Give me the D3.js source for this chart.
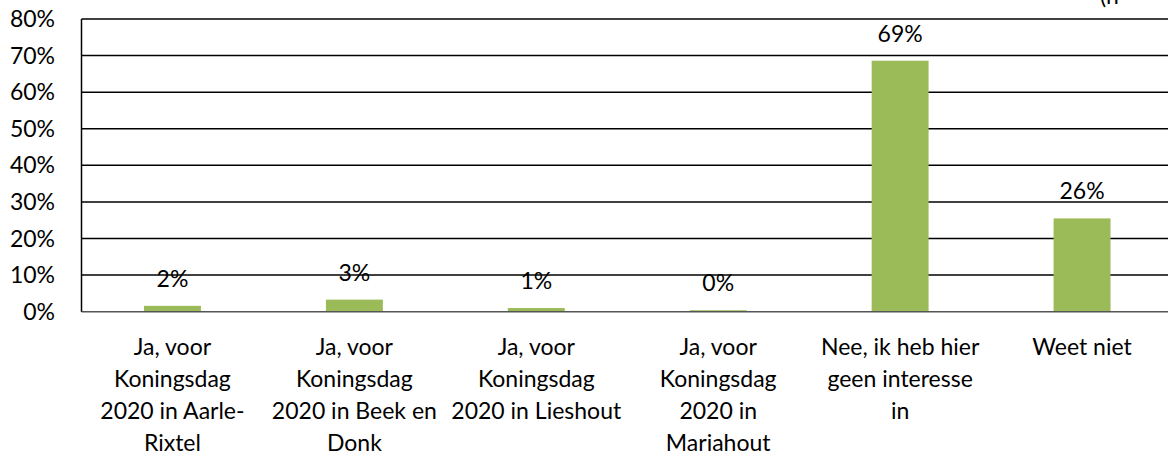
<!DOCTYPE html>
<html>
<head>
<meta charset="utf-8">
<script src="https://cdn.jsdelivr.net/npm/d3@7"></script>
<style>
  body { margin: 0; background: #fff; overflow: hidden; }
  text { font-family: Lato, "Open Sans", sans-serif; fill: #000; }
</style>
</head>
<body>
<div id="chart"></div>
<script>
'use strict';

// answers (categories) and their share
var categories = [
  'Ja, voor Koningsdag 2020 in Aarle-Rixtel',
  'Ja, voor Koningsdag 2020 in Beek en Donk',
  'Ja, voor Koningsdag 2020 in Lieshout',
  'Ja, voor Koningsdag 2020 in Mariahout',
  'Nee, ik heb hier geen interesse in',
  'Weet niet'
];
var values = [0.016, 0.033, 0.010, 0.004, 0.686, 0.255];
var valueLabels = ['2%', '3%', '1%', '0%', '69%', '26%'];
// how the axis labels are wrapped in the picture
var tickLines = [
  ['Ja, voor', 'Koningsdag', '2020 in Aarle-', 'Rixtel'],
  ['Ja, voor', 'Koningsdag', '2020 in Beek en', 'Donk'],
  ['Ja, voor', 'Koningsdag', '2020 in Lieshout'],
  ['Ja, voor', 'Koningsdag', '2020 in', 'Mariahout'],
  ['Nee, ik heb hier', 'geen interesse', 'in'],
  ['Weet niet']
];
var yTicks = [0, 0.1, 0.2, 0.3, 0.4, 0.5, 0.6, 0.7, 0.8];

var cw = 1168, ch = 457;
var x0 = 81.5, x1 = 1173, yTop = 19, yBottom = 311.7;
var barFrac = 0.313;

var svg = d3.select('#chart').append('svg')
  .attr('width', cw)
  .attr('height', ch);

var xScale = d3.scaleBand()
  .domain(categories)
  .range([x0, x1])
  .padding(0);

var yScale = d3.scaleLinear()
  .domain([0, 0.8])
  .range([yBottom, yTop]);

// gridlines
svg.append('g')
  .selectAll('line')
  .data(yTicks.slice(1))
  .enter().append('line')
  .attr('x1', x0)
  .attr('x2', x1)
  .attr('y1', function(d) { return yScale(d); })
  .attr('y2', function(d) { return yScale(d); })
  .attr('stroke', '#000')
  .attr('stroke-width', 1.5);

// y tick labels
svg.append('g')
  .selectAll('text')
  .data(yTicks)
  .enter().append('text')
  .attr('x', 55)
  .attr('y', function(d) { return yScale(d); })
  .attr('dy', '0.35em')
  .attr('text-anchor', 'end')
  .attr('font-size', 23)
  .text(function(d) { return Math.round(d * 100) + '%'; });

// bars
var bw = xScale.bandwidth() * barFrac;
svg.append('g')
  .selectAll('rect')
  .data(values)
  .enter().append('rect')
  .attr('x', function(d, i) { return xScale(categories[i]) + (xScale.bandwidth() - bw) / 2; })
  .attr('y', function(d) { return yScale(d); })
  .attr('width', bw)
  .attr('height', function(d) { return yScale(0) - yScale(d); })
  .attr('fill', '#9bbb59');

// axes lines
svg.append('line')
  .attr('x1', x0).attr('x2', x1)
  .attr('y1', yScale(0)).attr('y2', yScale(0))
  .attr('stroke', '#555')
  .attr('stroke-width', 1.5);
svg.append('line')
  .attr('x1', x0).attr('x2', x0)
  .attr('y1', yTop).attr('y2', yBottom)
  .attr('stroke', '#000')
  .attr('stroke-width', 1.5);

// value labels
svg.append('g')
  .selectAll('text')
  .data(values)
  .enter().append('text')
  .attr('x', function(d, i) { return xScale(categories[i]) + xScale.bandwidth() / 2; })
  .attr('y', function(d) { return yScale(d) - 27; })
  .attr('dy', '0.35em')
  .attr('text-anchor', 'middle')
  .attr('font-size', 23)
  .text(function(d, i) { return valueLabels[i]; });

// category labels
var tick = svg.append('g')
  .selectAll('text')
  .data(categories)
  .enter().append('text')
  .attr('text-anchor', 'middle')
  .attr('font-size', 23);

tick.each(function(d, i) {
  var cx = xScale(d) + xScale.bandwidth() / 2;
  d3.select(this).selectAll('tspan')
    .data(tickLines[i])
    .enter().append('tspan')
    .attr('x', cx)
    .attr('y', function(l, j) { return 347 + j * 32; })
    .attr('dy', '0.35em')
    .text(function(l) { return l; });
});

// cut off note in the top right corner
svg.append('text')
  .attr('x', 1100)
  .attr('y', 4)
  .attr('font-size', 23)
  .text('(n=');
</script>
</body>
</html>
